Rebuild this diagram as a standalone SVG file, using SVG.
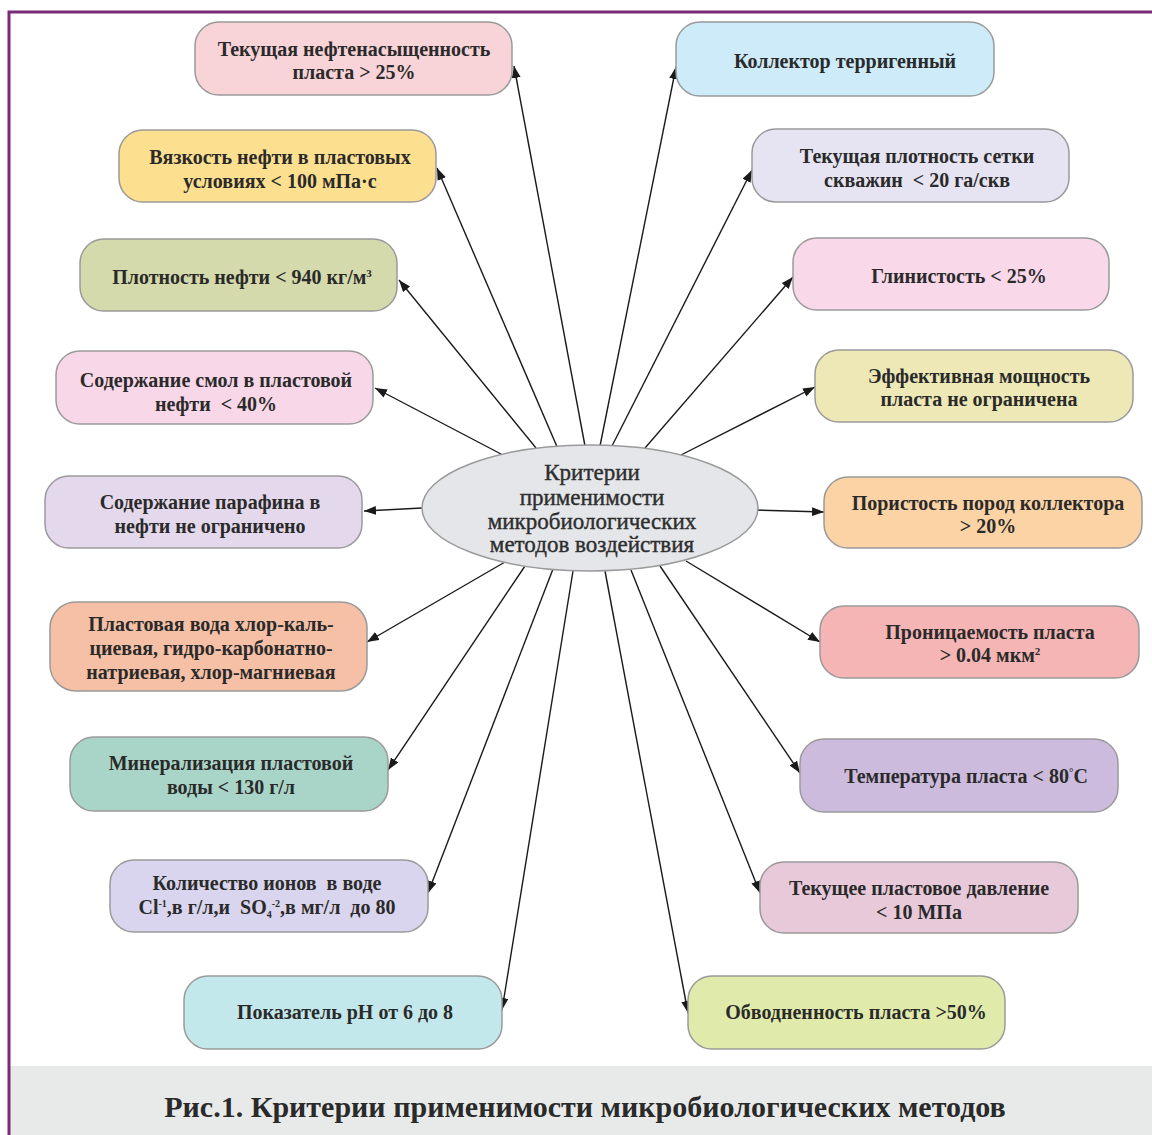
<svg xmlns="http://www.w3.org/2000/svg" width="1152" height="1135" viewBox="0 0 1152 1135">
<defs>
<marker id="arr" markerUnits="userSpaceOnUse" markerWidth="13" markerHeight="10" refX="12" refY="4.5" orient="auto">
<path d="M0,0 L12,4.5 L0,9 z" fill="#1a1a1a"/>
</marker>
<style>
.box{stroke:#9a9a9a;stroke-width:1.5}
.t{font-family:"Liberation Serif","Times New Roman",serif;font-weight:bold;font-size:20px;fill:#2a2a2a;text-anchor:middle}
.c{font-family:"Liberation Serif","Times New Roman",serif;font-size:23px;fill:#2e2e2e;stroke:#2e2e2e;stroke-width:0.4;text-anchor:middle}
.cap{font-family:"Liberation Serif","Times New Roman",serif;font-weight:bold;font-size:30px;fill:#2a2a2a;text-anchor:middle}
.ln{stroke:#1a1a1a;stroke-width:1.4;fill:none;marker-end:url(#arr)}
</style>
</defs>
<rect x="0" y="0" width="1152" height="1135" fill="#ffffff"/>
<rect x="9" y="1066" width="1143" height="69" fill="#e8eae9"/>
<path d="M9,1135 L9,12 L1152,12" fill="none" stroke="#7a2a78" stroke-width="3"/>
<text class="cap" x="585" y="1117">Рис.1. Критерии применимости микробиологических методов</text>

<g id="connectors">
<line class="ln" x1="585" y1="446" x2="514" y2="66"/>
<line class="ln" x1="558" y1="449" x2="437" y2="168"/>
<line class="ln" x1="536" y1="448" x2="399" y2="280"/>
<line class="ln" x1="501" y1="454" x2="375" y2="388"/>
<line class="ln" x1="422" y1="508" x2="364" y2="511"/>
<line class="ln" x1="505" y1="562" x2="367" y2="642"/>
<line class="ln" x1="525" y1="566" x2="388" y2="770"/>
<line class="ln" x1="553" y1="569" x2="428" y2="893"/>
<line class="ln" x1="573" y1="571" x2="502" y2="1010"/>
<line class="ln" x1="600" y1="446" x2="676" y2="67"/>
<line class="ln" x1="612" y1="446" x2="752" y2="170"/>
<line class="ln" x1="645" y1="448" x2="793" y2="277"/>
<line class="ln" x1="681" y1="455" x2="815" y2="387"/>
<line class="ln" x1="756" y1="510" x2="824" y2="512"/>
<line class="ln" x1="686" y1="561" x2="820" y2="642"/>
<line class="ln" x1="660" y1="566" x2="800" y2="773"/>
<line class="ln" x1="631" y1="570" x2="760" y2="893"/>
<line class="ln" x1="605" y1="571" x2="688" y2="1013"/>
</g>

<g id="center">
<ellipse cx="590" cy="508" rx="168" ry="63" fill="#e4e6ea" stroke="#9a9a9a" stroke-width="1.5"/>
<text class="c" x="592" y="480">Критерии</text>
<text class="c" x="592" y="505">применимости</text>
<text class="c" x="592" y="529">микробиологических</text>
<text class="c" x="592" y="552">методов воздействия</text>
</g>

<g id="L1"><rect class="box" x="195" y="22" width="317" height="73" rx="24" fill="#f8d3d7"/>
<text class="t" x="354" y="56">Текущая нефтенасыщенность</text><text class="t" x="354" y="79">пласта &gt; 25%</text></g>
<g id="L2"><rect class="box" x="119" y="130" width="317" height="72" rx="24" fill="#fde08f"/>
<text class="t" x="280" y="164">Вязкость нефти в пластовых</text><text class="t" x="280" y="188">условиях &lt; 100 мПа·с</text></g>
<g id="L3"><rect class="box" x="80" y="239" width="317" height="72" rx="24" fill="#d4daab"/>
<text class="t" x="242" y="284">Плотность нефти &lt; 940 кг/м<tspan font-size="11" baseline-shift="7">3</tspan></text></g>
<g id="L4"><rect class="box" x="56" y="351" width="317" height="73" rx="24" fill="#f8d8e8"/>
<text class="t" x="216" y="387">Содержание смол в пластовой</text><text class="t" x="216" y="411" xml:space="preserve">нефти  &lt; 40%</text></g>
<g id="L5"><rect class="box" x="45" y="476" width="317" height="72" rx="24" fill="#e4d8ec"/>
<text class="t" x="210" y="509">Содержание парафина в</text><text class="t" x="210" y="533">нефти не ограничено</text></g>
<g id="L6"><rect class="box" x="50" y="602" width="317" height="89" rx="26" fill="#f6c0a6"/>
<text class="t" x="211" y="631">Пластовая вода хлор-каль-</text><text class="t" x="211" y="655">циевая, гидро-карбонатно-</text><text class="t" x="211" y="679">натриевая, хлор-магниевая</text></g>
<g id="L7"><rect class="box" x="70" y="737" width="318" height="74" rx="24" fill="#a9d5c8"/>
<text class="t" x="231" y="770">Минерализация пластовой</text><text class="t" x="231" y="794">воды &lt; 130 г/л</text></g>
<g id="L8"><rect class="box" x="110" y="860" width="318" height="72" rx="24" fill="#d9d5ee"/>
<text class="t" x="267" y="890" xml:space="preserve">Количество ионов  в воде</text><text class="t" x="267" y="914" xml:space="preserve">Cl<tspan font-size="10" baseline-shift="7">-1</tspan>,в г/л,и  SO<tspan font-size="10" baseline-shift="-4">4</tspan><tspan font-size="10" baseline-shift="7">-2</tspan>,в мг/л  до 80</text></g>
<g id="L9"><rect class="box" x="184" y="976" width="318" height="73" rx="24" fill="#c3e8ec"/>
<text class="t" x="345" y="1019">Показатель pH от 6 до 8</text></g>

<g id="R1"><rect class="box" x="676" y="22" width="318" height="74" rx="24" fill="#cdebf8"/>
<text class="t" x="845" y="68">Коллектор терригенный</text></g>
<g id="R2"><rect class="box" x="752" y="129" width="317" height="73" rx="24" fill="#e6e4f2"/>
<text class="t" x="917" y="163">Текущая плотность сетки</text><text class="t" x="917" y="187" xml:space="preserve">скважин  &lt; 20 га/скв</text></g>
<g id="R3"><rect class="box" x="793" y="238" width="316" height="72" rx="24" fill="#f9d8ea"/>
<text class="t" x="959" y="283">Глинистость &lt; 25%</text></g>
<g id="R4"><rect class="box" x="815" y="350" width="318" height="72" rx="24" fill="#ede8b6"/>
<text class="t" x="979" y="383">Эффективная мощность</text><text class="t" x="979" y="406">пласта не ограничена</text></g>
<g id="R5"><rect class="box" x="824" y="477" width="318" height="71" rx="24" fill="#fbd3a5"/>
<text class="t" x="988" y="510">Пористость пород коллектора</text><text class="t" x="988" y="533">&gt; 20%</text></g>
<g id="R6"><rect class="box" x="820" y="606" width="319" height="72" rx="24" fill="#f6b5b5"/>
<text class="t" x="990" y="639">Проницаемость пласта</text><text class="t" x="990" y="662">&gt; 0.04 мкм<tspan font-size="11" baseline-shift="7">2</tspan></text></g>
<g id="R7"><rect class="box" x="800" y="739" width="318" height="73" rx="24" fill="#cdbbdd"/>
<text class="t" x="966" y="783">Температура пласта &lt; 80<tspan font-size="11" baseline-shift="7">°</tspan>C</text></g>
<g id="R8"><rect class="box" x="760" y="862" width="318" height="71" rx="24" fill="#e8c9da"/>
<text class="t" x="919" y="895">Текущее пластовое давление</text><text class="t" x="919" y="919">&lt; 10 МПа</text></g>
<g id="R9"><rect class="box" x="688" y="976" width="317" height="73" rx="24" fill="#e0eaab"/>
<text class="t" x="856" y="1019">Обводненность пласта &gt;50%</text></g>
</svg>
